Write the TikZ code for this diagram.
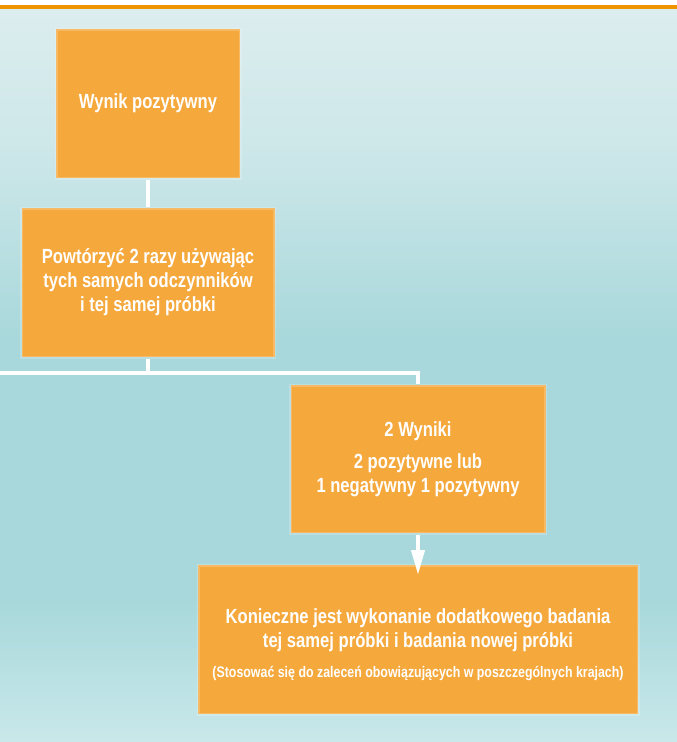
\documentclass[tikz,border=0pt]{standalone}
\usepackage{fontspec}
\setmainfont{Liberation Sans}[FakeStretch=0.81]
\usetikzlibrary{arrows.meta}
\definecolor{boxor}{HTML}{F5A83C}
\definecolor{topline}{HTML}{EF9400}
\definecolor{bgtop}{HTML}{DCEDEE}
\definecolor{bgup}{HTML}{CDE7E9}
\definecolor{bgmid}{HTML}{A8D8DB}
\definecolor{bgbot}{HTML}{C9E8EA}
\begin{document}
\begin{tikzpicture}[x=1pt,y=-1pt,
  box/.style={rectangle, fill=boxor, draw=white, draw opacity=0.2, line width=3pt,
    inner sep=0pt, text=white, align=center,
    font=\bfseries\fontsize{20.5}{24}\selectfont},
  conn/.style={draw=white, line width=4pt}]
\useasboundingbox (0,0) rectangle (677,742);
% background
\fill[white] (0,0) rectangle (677,6);
\shade[top color=bgtop, bottom color=bgup] (0,6) rectangle (677,150.5);
\shade[top color=bgup, bottom color=bgmid] (0,150) rectangle (677,340.5);
\fill[bgmid] (0,340) rectangle (677,600.5);
\shade[top color=bgmid, bottom color=bgbot] (0,600) rectangle (677,742);
\draw[topline, line width=3.5pt] (0,6.75) -- (677,6.75);
% boxes
\node[box, minimum width=184, minimum height=149] (b1) at (148,103.5) {Wynik pozytywny};
\node[box, minimum width=253, minimum height=149] (b2) at (148,282.5)
  {Powtórzyć 2 razy używając\\ tych samych odczynników\\ i tej samej próbki};
\node[box, minimum width=255, minimum height=148] (b3) at (418,459)
  {2 Wyniki\\[8pt] 2 pozytywne lub\\ 1 negatywny 1 pozytywny};
\node[box, minimum width=440, minimum height=149] (b4) at (418,639.5)
  {\rule{0pt}{25pt}Konieczne jest wykonanie dodatkowego badania\\ tej samej próbki i badania nowej próbki\\[5.5pt]
   {\fontsize{15.3}{17}\selectfont (Stosować się do zaleceń obowiązujących w poszczególnych krajach)}};
% connectors
\coordinate (lft) at (0,373);
\draw[conn] (b1.south) -- (b2.north);
\draw[conn] (b2.south) -- (b2.south |- lft);
\draw[conn] (lft) -| (b3.north);
\draw[conn, -{Triangle[width=13pt,length=25pt]}] (b3.south) -- ([yshift=-11.5pt]b4.north);
\end{tikzpicture}
\end{document}
